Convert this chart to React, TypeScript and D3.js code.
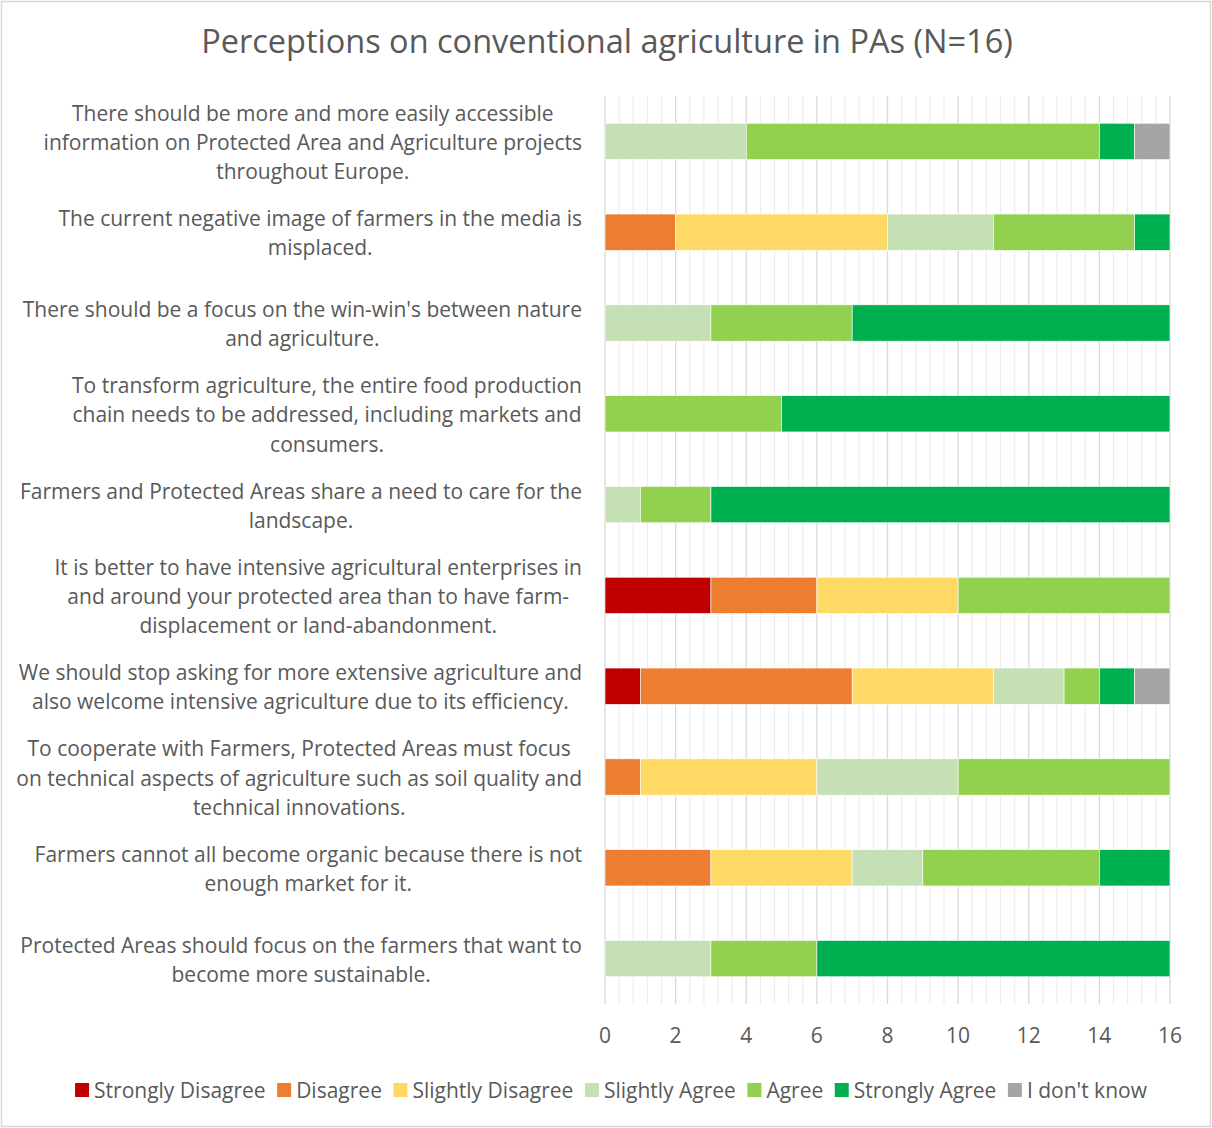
import React, { useEffect, useRef } from "react";
import * as d3 from "d3";

const WIDTH = 1212;
const HEIGHT = 1128;

const categoryLines: string[][] = [
  ["There should be more and more easily accessible", "information on Protected Area and Agriculture projects", "throughout Europe."],
  ["The current negative image of farmers in the media is", "misplaced."],
  ["There should be a focus on the win-win's between nature", "and agriculture."],
  ["To transform agriculture, the entire food production", "chain needs to be addressed, including markets and", "consumers."],
  ["Farmers and Protected Areas share a need to care for the", "landscape."],
  ["It is better to have intensive agricultural enterprises in", "and around your protected area than to have farm-", "displacement or land-abandonment."],
  ["We should stop asking for more extensive agriculture and", "also welcome intensive agriculture due to its efficiency."],
  ["To cooperate with Farmers, Protected Areas must focus", "on technical aspects of agriculture such as soil quality and", "technical innovations."],
  ["Farmers cannot all become organic because there is not", "enough market for it."],
  ["Protected Areas should focus on the farmers that want to", "become more sustainable."],
];

const seriesNames = ["Strongly Disagree", "Disagree", "Slightly Disagree", "Slightly Agree", "Agree", "Strongly Agree", "I don't know"];
const seriesColors = ["#C00000", "#ED7D31", "#FFD966", "#C5E0B4", "#92D050", "#00B050", "#A5A5A5"];

const stronglyDisagree = [0, 0, 0, 0, 0, 3, 1, 0, 0, 0];
const disagree = [0, 2, 0, 0, 0, 3, 6, 1, 3, 0];
const slightlyDisagree = [0, 6, 0, 0, 0, 4, 4, 5, 4, 0];
const slightlyAgree = [4, 3, 3, 0, 1, 0, 2, 4, 2, 3];
const agree = [10, 4, 4, 5, 2, 6, 1, 6, 5, 3];
const stronglyAgree = [1, 1, 9, 11, 13, 0, 1, 0, 2, 10];
const dontKnow = [1, 0, 0, 0, 0, 0, 1, 0, 0, 0];

const xTicks = [0, 2, 4, 6, 8, 10, 12, 14, 16];

const FONT = "'Open Sans', sans-serif";
const TEXT = "#595959";
const FS = 21;

export default function App() {
  const ref = useRef<SVGSVGElement | null>(null);

  useEffect(() => {
    const svg = d3.select(ref.current);
    svg.selectAll("*").remove();

    const seriesValues = [stronglyDisagree, disagree, slightlyDisagree, slightlyAgree, agree, stronglyAgree, dontKnow];
    const rows = categoryLines.map((_, i) => {
      const r: Record<string, number> = { idx: i };
      seriesNames.forEach((n, s) => (r[n] = seriesValues[s][i]));
      return r;
    });
    const stacked = d3.stack<Record<string, number>>().keys(seriesNames)(rows);

    const left = 605, right = 1170, top = 96, bottom = 1004;
    const x = d3.scaleLinear().domain([0, 16]).range([left, right]);
    const y = d3.scaleBand<number>().domain(d3.range(categoryLines.length)).range([top, bottom]).paddingInner(0.6).paddingOuter(0.3);

    // background and frame
    svg.append("rect").attr("x", 1.5).attr("y", 1.5).attr("width", WIDTH - 3).attr("height", HEIGHT - 3)
      .attr("fill", "#fff").attr("stroke", "#D9D9D9").attr("stroke-width", 1.5);

    // title
    svg.append("text").attr("x", WIDTH / 2 + 1).attr("y", 53).attr("text-anchor", "middle")
      .attr("font-family", FONT).attr("font-size", 32.5).attr("fill", TEXT)
      .text("Perceptions on conventional agriculture in PAs (N=16)");

    // minor grid
    const minor = d3.range(0, 16.001, 0.4).filter((v) => Math.abs(v / 2 - Math.round(v / 2)) > 1e-6);
    svg.append("g").selectAll("line").data(minor).join("line")
      .attr("x1", (d) => x(d)).attr("x2", (d) => x(d)).attr("y1", top).attr("y2", bottom)
      .attr("stroke", "#EDEDED").attr("stroke-width", 1.2);
    // major grid
    svg.append("g").selectAll("line").data(xTicks).join("line")
      .attr("x1", (d) => x(d)).attr("x2", (d) => x(d)).attr("y1", top).attr("y2", bottom)
      .attr("stroke", "#D9D9D9").attr("stroke-width", 1.3);

    // bars
    stacked.forEach((layer, s) => {
      svg.append("g").selectAll("rect").data(layer.filter((d) => d[1] > d[0])).join("rect")
        .attr("x", (d) => x(d[0]))
        .attr("y", (d) => y(d.data.idx as number)!)
        .attr("width", (d) => x(d[1]) - x(d[0]))
        .attr("height", y.bandwidth())
        .attr("fill", seriesColors[s])
        .attr("stroke", "#fff").attr("stroke-width", 0.6);
    });

    // x tick labels
    svg.append("g").selectAll("text").data(xTicks).join("text")
      .attr("x", (d) => x(d)).attr("y", 1043).attr("text-anchor", "middle")
      .attr("font-family", FONT).attr("font-size", FS).attr("fill", TEXT)
      .text((d) => String(d));

    // category labels: block right-aligned, lines centred inside block
    const labelRight = 582;
    const lineH = 29.2;
    categoryLines.forEach((lines, i) => {
      const g = svg.append("g");
      const texts = lines.map((l) => g.append("text").attr("font-family", FONT).attr("font-size", FS).attr("fill", TEXT).text(l));
      const widths = texts.map((t) => (t.node() as SVGTextElement).getComputedTextLength());
      const maxW = Math.max(...widths);
      const cx = labelRight - maxW / 2;
      const cy = y(i)! + y.bandwidth() / 2;
      texts.forEach((t, k) => {
        t.attr("x", cx).attr("text-anchor", "middle")
          .attr("y", cy + (k - (lines.length - 1) / 2) * lineH + 8.5);
      });
    });

    // legend
    const lg = svg.append("g");
    const sw = 14, textGap = 5, itemGap = 11.5;
    let cursor = 0;
    seriesNames.forEach((n, s) => {
      const g = lg.append("g").attr("transform", `translate(${cursor},0)`);
      g.append("rect").attr("x", 0).attr("y", -sw / 2).attr("width", sw).attr("height", sw).attr("fill", seriesColors[s]);
      const t = g.append("text").attr("x", sw + textGap).attr("y", 7.5).attr("font-family", FONT).attr("font-size", FS).attr("fill", TEXT).text(n);
      const w = (t.node() as SVGTextElement).getComputedTextLength();
      cursor += sw + textGap + w + itemGap;
    });
    const total = cursor - itemGap;
    lg.attr("transform", `translate(${611 - total / 2},1090)`);
  }, []);

  return (
    <svg ref={ref} width={WIDTH} height={HEIGHT} style={{ display: "block", position: "absolute", left: 0, top: 0 }} />
  );
}
